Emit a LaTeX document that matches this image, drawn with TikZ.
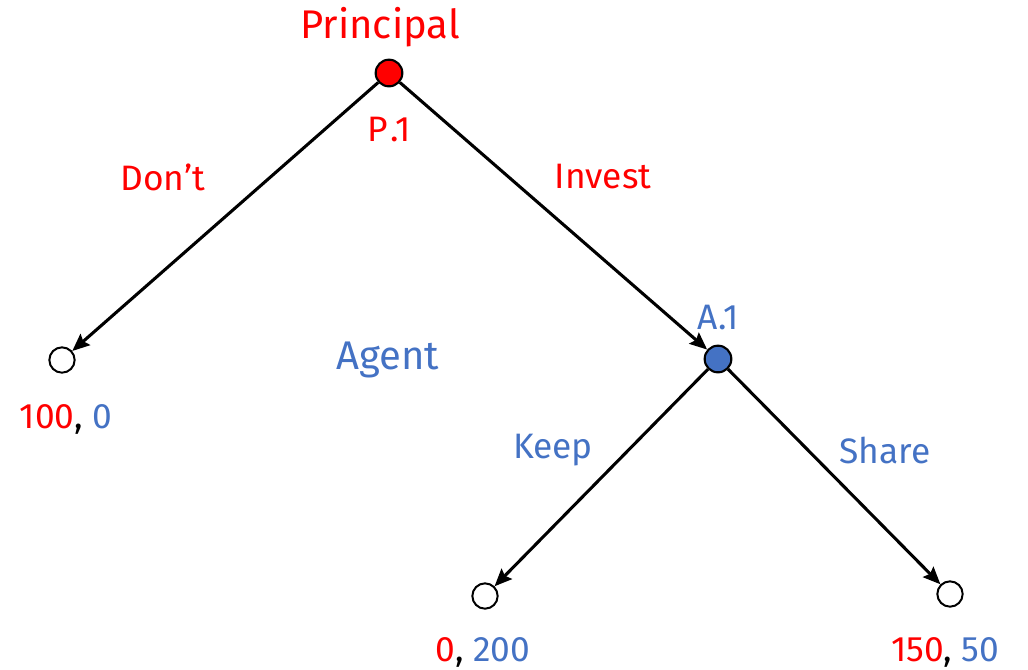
\documentclass[tikz,border=0pt]{standalone}
\usepackage{fontspec}
\setmainfont{Fira Sans}
\usetikzlibrary{arrows.meta}
\definecolor{pred}{RGB}{255,0,0}
\definecolor{pblue}{RGB}{68,114,196}
\begin{document}
\begin{tikzpicture}[x=0.75pt,y=-0.75pt,
  dec/.style={circle,draw=black,line width=1.6pt,minimum size=20pt,inner sep=0pt},
  leaf/.style={circle,draw=black,line width=1.5pt,fill=white,minimum size=19pt,inner sep=0pt},
  edge/.style={line width=2.3pt,-{Stealth[length=13pt,width=11pt,inset=2pt]}},
  lab/.style={font=\fontsize{26.5}{30}\selectfont,inner sep=0pt},
  big/.style={font=\fontsize{30}{34}\selectfont,inner sep=0pt}]
\useasboundingbox (0,0) rectangle (1028,669);
\node[dec,fill=pred] (P) at (389,73) {};
\node[dec,fill=pblue] (A) at (718,359) {};
\node[leaf] (L) at (62,360) {};
\node[leaf] (K) at (485,596) {};
\node[leaf] (S) at (950,594) {};
\draw[edge] (P) -- (L);
\draw[edge] (P) -- (A);
\draw[edge] (A) -- (K);
\draw[edge] (A) -- (S);
\node[big,text=pred] (tp) at (380,27) {Principal};
\node[lab,text=pred] (p1) at (389,130) {P\kern1.5pt.1};
\node[lab,text=pred] (td) at (163,177) {Don’t};
\node[lab,text=pred] (ti) at (603,177) {Invest};
\node[lab,text=pblue] (a1) at (718,318) {A\kern1pt.1};
\node[big,text=pblue] (ta) at (388,360) {Agent};
\node[lab,text=pblue] (tk) at (553,450) {Keep};
\node[lab,text=pblue] (ts) at (885,450) {Share};
\node[lab,anchor=base] (pl) at (66,428) {\textcolor{pred}{100}, \textcolor{pblue}{0}};
\node[lab,anchor=base] (pk) at (483,661) {\textcolor{pred}{0}, \textcolor{pblue}{200}};
\node[lab,anchor=base] (ps) at (945,661) {\textcolor{pred}{150}, \textcolor{pblue}{50}};
\end{tikzpicture}
\end{document}
